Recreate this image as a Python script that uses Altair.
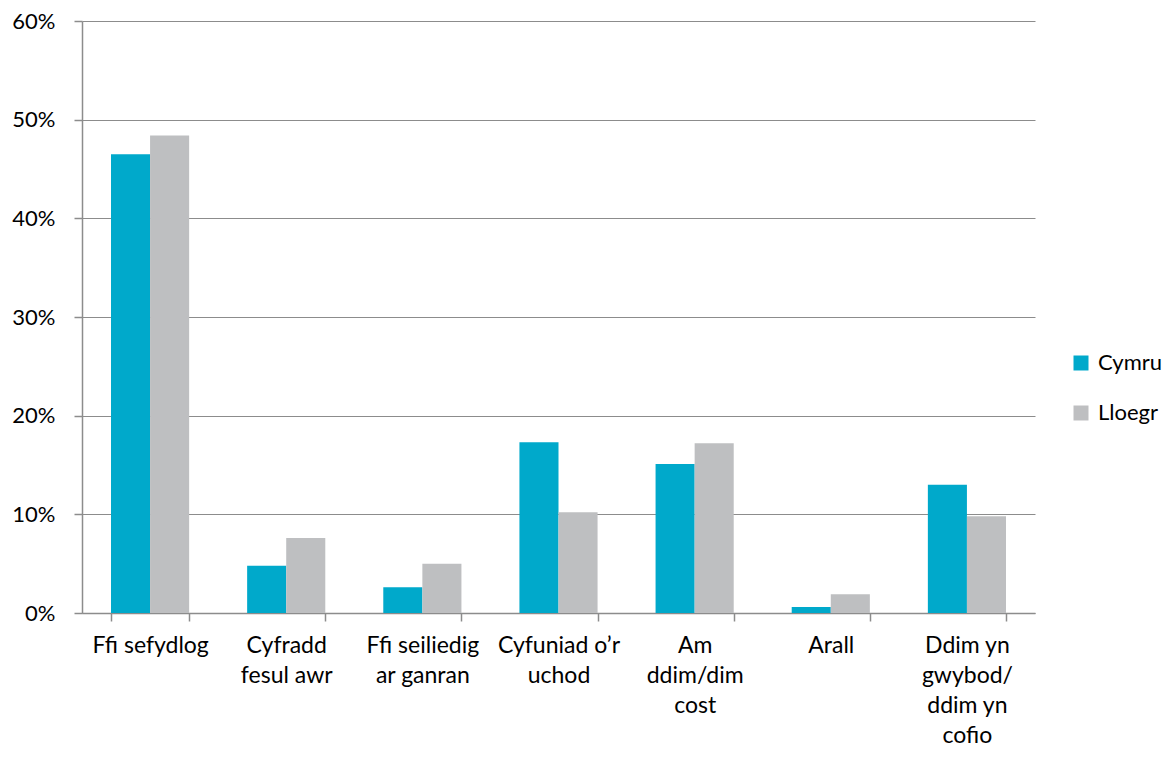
import altair as alt
import pandas as pd

categories = [
    "Ffi sefydlog",
    "Cyfradd\nfesul awr",
    "Ffi seiliedig\nar ganran",
    "Cyfuniad o\u2019r\nuchod",
    "Am\nddim/dim\ncost",
    "Arall",
    "Ddim yn\ngwybod/\nddim yn\ncofio",
]
series = ["Cymru", "Lloegr"]
cymru = [0.465, 0.048, 0.026, 0.173, 0.151, 0.006, 0.130]
lloegr = [0.484, 0.076, 0.050, 0.102, 0.172, 0.019, 0.098]
colors = ["#00A9CB", "#BEBFC1"]

rows = []
for c, a, b in zip(categories, cymru, lloegr):
    rows.append({"cat": c, "series": "Cymru", "value": a})
    rows.append({"cat": c, "series": "Lloegr", "value": b})
df = pd.DataFrame(rows)

FONT = "Lato"
AX = "#8C8C8C"

chart = alt.Chart(df).mark_bar().encode(
    x=alt.X("cat:N", sort=categories, title=None,
            scale=alt.Scale(paddingInner=0.426, paddingOuter=0.213),
            axis=alt.Axis(labelAngle=0, labelExpr="split(datum.label, '\\n')",
                          labelFont=FONT, labelFontSize=23, labelColor="#000000",
                          labelLineHeight=30, labelPadding=13, labelBaseline="top",
                          tickBand="extent", tickSize=8, tickColor=AX, tickWidth=1.5,
                          domainColor=AX, domainWidth=1.5, grid=False)),
    xOffset=alt.XOffset("series:N", sort=series),
    y=alt.Y("value:Q", title=None,
            scale=alt.Scale(domain=[0, 0.6]),
            axis=alt.Axis(format=".0%", values=[0, 0.1, 0.2, 0.3, 0.4, 0.5, 0.6],
                          labelFont=FONT, labelFontSize=22, labelColor="#000000",
                          labelPadding=19, tickSize=8, tickColor=AX, tickWidth=1.5,
                          domainColor=AX, domainWidth=1.5,
                          gridColor=AX, gridWidth=1)),
    color=alt.Color("series:N", sort=series,
                    scale=alt.Scale(domain=series, range=colors),
                    legend=alt.Legend(title=None, orient="none", legendX=988, legendY=331,
                                      symbolType="square", symbolSize=225,
                                      symbolStrokeWidth=0, labelFont=FONT,
                                      labelFontSize=22, labelColor="#000000",
                                      rowPadding=28, padding=0, labelOffset=6)),
).properties(
    width=953, height=592,
    padding={"left": 3, "top": 2, "right": 0, "bottom": 0},
).configure_view(stroke=None)

chart.save("out.html", embed_options={"renderer": "svg", "actions": False})
